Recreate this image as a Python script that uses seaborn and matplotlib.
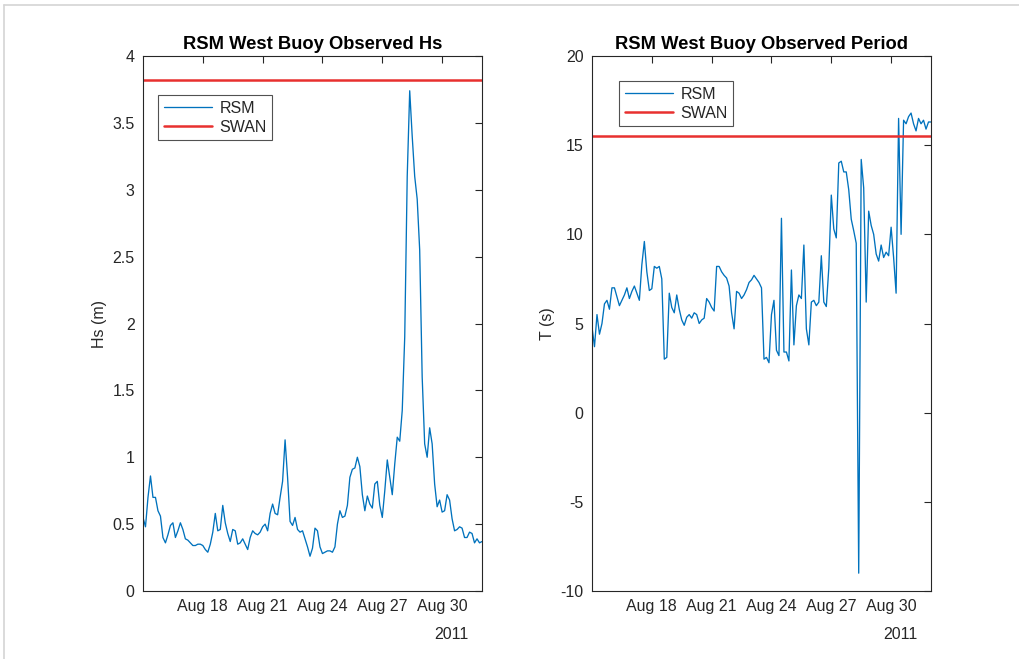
import numpy as np
import pandas as pd
import matplotlib
matplotlib.use("Agg")
import matplotlib.pyplot as plt
import matplotlib.dates as mdates
from matplotlib.lines import Line2D
import seaborn as sns

# Buoy record, 3-hourly samples starting 2011-08-15 00:00
start_time = "2011-08-15 00:00"
step = "3h"

hs_rsm = [
    0.55, 0.48, 0.70, 0.86, 0.70, 0.70, 0.60, 0.56, 0.40, 0.36,
    0.42, 0.49, 0.51, 0.40, 0.45, 0.51, 0.46, 0.39, 0.38, 0.36,
    0.34, 0.34, 0.35, 0.35, 0.34, 0.31, 0.29, 0.35, 0.44, 0.58,
    0.45, 0.46, 0.64, 0.51, 0.43, 0.37, 0.46, 0.45, 0.35, 0.36,
    0.39, 0.35, 0.31, 0.40, 0.45, 0.43, 0.42, 0.44, 0.48, 0.50,
    0.45, 0.58, 0.65, 0.58, 0.57, 0.70, 0.82, 1.13, 0.85, 0.52,
    0.49, 0.55, 0.46, 0.44, 0.45, 0.39, 0.33, 0.26, 0.32, 0.47,
    0.45, 0.33, 0.28, 0.29, 0.30, 0.30, 0.29, 0.33, 0.50, 0.60,
    0.55, 0.56, 0.64, 0.85, 0.91, 0.92, 1.00, 0.93, 0.72, 0.60,
    0.71, 0.65, 0.62, 0.80, 0.82, 0.64, 0.55, 0.75, 0.98, 0.85,
    0.72, 0.95, 1.15, 1.12, 1.35, 1.90, 3.10, 3.74, 3.40, 3.10,
    2.93, 2.55, 1.60, 1.10, 1.00, 1.22, 1.10, 0.80, 0.63, 0.68,
    0.59, 0.60, 0.72, 0.68, 0.54, 0.45, 0.46, 0.48, 0.47, 0.40,
    0.40, 0.44, 0.43, 0.36, 0.39, 0.36, 0.37,
]

t_rsm = [
    4.8, 3.7, 5.5, 4.4, 5.0, 6.1, 6.3, 5.8, 7.0, 7.0,
    6.5, 6.0, 6.3, 6.6, 7.0, 6.4, 6.8, 7.1, 6.7, 6.3,
    8.3, 9.6, 7.9, 6.85, 6.95, 8.2, 8.1, 8.2, 7.5, 3.0,
    3.1, 6.7, 5.9, 5.6, 6.6, 5.8, 5.2, 4.9, 5.35, 5.5,
    5.3, 5.6, 5.5, 5.0, 5.2, 5.3, 6.4, 6.2, 5.9, 5.7,
    8.2, 8.2, 7.9, 7.7, 7.55, 7.1, 5.6, 4.7, 6.8, 6.7,
    6.4, 6.6, 6.9, 7.3, 7.45, 7.7, 7.5, 7.3, 7.0, 3.0,
    3.1, 2.8, 5.5, 6.3, 3.5, 3.2, 10.9, 3.4, 3.4, 2.9,
    8.0, 3.8, 6.0, 6.6, 6.4, 9.4, 4.7, 3.8, 6.2, 6.3,
    6.0, 6.2, 8.8, 6.2, 5.95, 8.1, 12.2, 10.3, 9.8, 14.0,
    14.1, 13.5, 13.5, 12.5, 10.85, 10.2, 9.5, -9.0, 14.2, 12.6,
    6.2, 11.3, 10.5, 10.0, 8.9, 8.5, 9.4, 8.7, 9.0, 8.8,
    10.4, 8.7, 6.7, 16.5, 10.0, 16.4, 16.2, 16.6, 16.8, 16.2,
    15.8, 16.5, 16.2, 16.4, 15.9, 16.3, 16.3,
]

# Model reference levels
hs_swan = 3.82
t_swan = 15.5

tick_days = [18, 21, 24, 27, 30]
hs_ticks = [0, 0.5, 1, 1.5, 2, 2.5, 3, 3.5, 4]
hs_ticklabels = ["0", "0.5", "1", "1.5", "2", "2.5", "3", "3.5", "4"]
t_ticks = [-10, -5, 0, 5, 10, 15, 20]
year_label = "2011"

times = pd.date_range(start_time, periods=len(hs_rsm), freq=step)
df = pd.DataFrame({"time": times, "Hs": hs_rsm, "T": t_rsm})

sns.set_theme(style="white")
plt.rcParams["font.family"] = ["Liberation Sans", "DejaVu Sans"]
plt.rcParams.update({
    "axes.unicode_minus": False,
    "axes.edgecolor": "#262626",
    "axes.linewidth": 0.8,
    "xtick.direction": "in",
    "ytick.direction": "in",
    "xtick.color": "#262626",
    "ytick.color": "#262626",
    "xtick.labelcolor": "#262626",
    "ytick.labelcolor": "#262626",
    "axes.labelcolor": "#262626",
})

blue = "#0072BD"
red = "#E8302F"
fs = 11.5

fig = plt.figure(figsize=(10.19, 6.59), dpi=100)
ax1 = fig.add_axes([143 / 1019, 68 / 659, 339 / 1019, 535 / 659])
ax2 = fig.add_axes([592 / 1019, 68 / 659, 339 / 1019, 535 / 659])

panels = [
    (ax1, "Hs", hs_swan, "RSM West Buoy Observed Hs", "Hs (m)", (0, 4), (0.044, 0.927)),
    (ax2, "T", t_swan, "RSM West Buoy Observed Period", "T (s)", (-10, 20), (0.080, 0.953)),
]

for ax, col, swan, title, ylab, ylim, leg_pos in panels:
    sns.lineplot(data=df, x="time", y=col, ax=ax, color=blue, linewidth=0.95, label="RSM")
    ax.axhline(swan, color=red, linewidth=1.8, label="SWAN")
    ax.set_xlim(times[0], times[-1])
    ax.set_ylim(*ylim)
    ax.set_title(title, fontsize=13.2, fontweight="bold", pad=5, color="#000000")
    ax.set_xlabel("")
    ax.set_ylabel(ylab, fontsize=fs)
    ax.xaxis.set_major_locator(mdates.DayLocator(bymonthday=tick_days))
    ax.xaxis.set_major_formatter(mdates.DateFormatter("%b %d"))
    ax.tick_params(axis="both", which="major", labelsize=fs, length=5, width=0.8,
                   top=True, right=True, pad=6)
    for sp in ax.spines.values():
        sp.set_visible(True)
        sp.set_color("#262626")
    ax.annotate(year_label, xy=(pd.Timestamp("2011-08-30"), 0),
                xycoords=("data", "axes fraction"), xytext=(19, -31),
                textcoords="offset points", ha="right", va="center",
                fontsize=fs, color="#262626")
    leg = ax.legend(loc="upper left", bbox_to_anchor=leg_pos, fontsize=fs,
                    frameon=True, fancybox=False, handlelength=3.05,
                    borderpad=0.35, labelspacing=0.25, handletextpad=0.45,
                    borderaxespad=0)
    leg.get_frame().set_edgecolor("#262626")
    leg.get_frame().set_linewidth(0.8)

ax1.set_yticks(hs_ticks)
ax1.set_yticklabels(hs_ticklabels)
ax2.set_yticks(t_ticks)

# Window-style frame at the top and left edges
fig.add_artist(Line2D([4 / 1019, 1], [1 - 5 / 659, 1 - 5 / 659], color="#d4d4d4", linewidth=1.2))
fig.add_artist(Line2D([4 / 1019, 4 / 1019], [0, 1 - 5 / 659], color="#d4d4d4", linewidth=1.2))

fig.savefig("out.png", dpi=100, facecolor="white")
